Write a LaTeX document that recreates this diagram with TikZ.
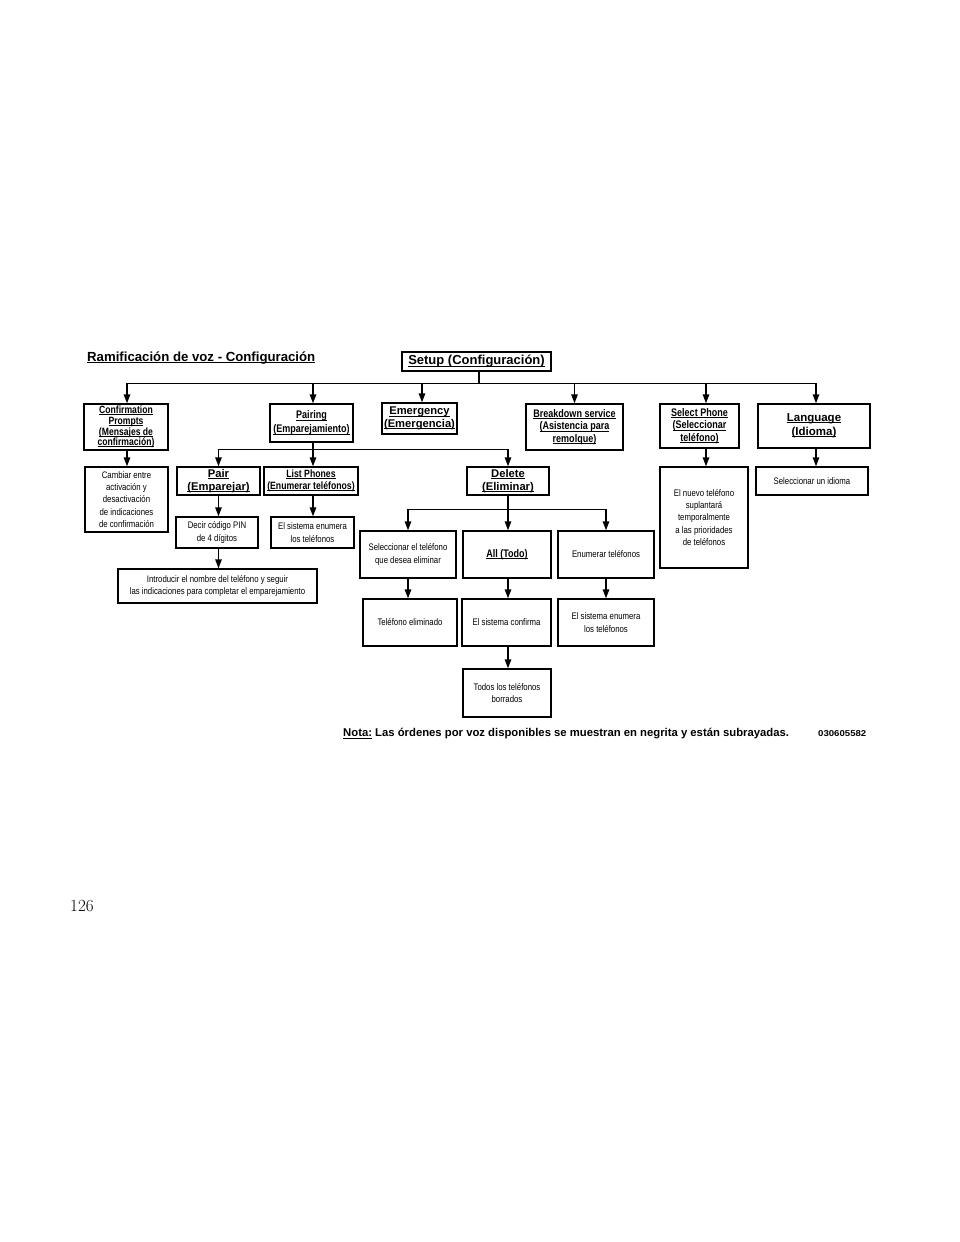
\documentclass[tikz,border=0pt]{standalone}
\usepackage{fontspec}
\setmainfont{Liberation Sans}
\newfontfamily\hv{Liberation Sans}
\newfontfamily\hvn[FakeStretch=0.82]{Liberation Sans}
\newfontfamily\hvw[FakeStretch=1.13]{Liberation Sans}
\newfontfamily\pageserif{Latin Modern Roman}
\usetikzlibrary{arrows.meta}
\newcommand\bx[7][]{\node[box,#1, minimum width={#5-#3}, minimum height={#6-#4}] (#2) at ({(#3+#5)/2},{(#4+#6)/2}) {#7};}
\newcommand\ul[1]{\leavevmode\setbox0\hbox{#1}\rlap{\rule[-1.5pt]{\wd0}{0.8pt}}\box0\relax}
\begin{document}
\begin{tikzpicture}[x=1pt,y=-1pt,
  box/.style={draw=black, line width=1.4pt, fill=white, inner sep=0pt, align=center, text=black},
  cmdA/.style={font={\hv\bfseries\fontsize{11.2}{12.6}\selectfont}},
  cmdN/.style={font={\hvn\bfseries\fontsize{11}{12.5}\selectfont}},
  info/.style={font={\hvn\fontsize{9.5}{12.3}\selectfont}},
  arr/.style={line width=1.4pt, -{Triangle[length=9pt,width=6.5pt]}},
  ln/.style={line width=1.4pt}]
\useasboundingbox[fill=white] (0,0) rectangle (960,1242);

% title
\node[anchor=west, inner sep=0pt, font={\hv\bfseries\fontsize{13.2}{14}\selectfont}] (title) at (87,358) {\ul{Ramificación de voz - Configuración}};

% root
\bx[font={\hv\bfseries\fontsize{13}{14}\selectfont}]{setup}{402}{352}{551}{371}{\ul{Setup (Configuración)}}

% level 1
\bx[font={\hvn\bfseries\fontsize{10.5}{10.7}\selectfont}]{conf}{84}{404}{168}{450}{\ul{Confirmation}\\\ul{Prompts}\\\ul{(Mensajes de}\\\ul{confirmación)}}
\bx[cmdN, font={\hvn\bfseries\fontsize{11}{14}\selectfont}]{pairing}{270}{404}{353}{442}{\ul{Pairing}\\\ul{(Emparejamiento)}}
\bx[cmdA]{emerg}{382}{403}{457}{434}{\ul{Emergency}\\\ul{(Emergencia)}}
\bx[cmdN]{break}{526}{404}{623}{450}{\ul{Breakdown service}\\\ul{(Asistencia para}\\\ul{remolque)}}
\bx[cmdN]{selph}{660}{404}{739}{448}{\ul{Select Phone}\\\ul{(Seleccionar}\\\ul{teléfono)}}
\bx[cmdA, font={\hv\bfseries\fontsize{11.5}{14}\selectfont}]{lang}{758}{404}{870}{448}{\ul{Language}\\\ul{(Idioma)}}

\coordinate (stem) at ([xshift=2.5pt]setup.south);
\foreach \n/\dx in {conf/1,pairing/1.5,emerg/2.5,break/0,selph/6.5,lang/2}
  \draw[arr] (stem) -- ++(0,12) -| ([xshift=\dx pt]\n.north);

% level 2
\bx[info]{cambiar}{85}{467}{168}{532}{Cambiar entre\\activación y\\desactivación\\de indicaciones\\de confirmación}
\draw[arr] ([xshift=1pt]conf.south) -- ([xshift=1pt]conf.south |- cambiar.north);

\bx[cmdA]{pair}{177}{467}{260}{495}{\ul{Pair}\\\ul{(Emparejar)}}
\bx[cmdN, font={\hvn\bfseries\fontsize{10.6}{12}\selectfont}]{listph}{264}{467}{358}{495}{\ul{List Phones}\\\ul{(Enumerar teléfonos)}}
\bx[cmdA]{delete}{467}{467}{549}{495}{\ul{Delete}\\\ul{(Eliminar)}}
\coordinate (pst) at ([xshift=1.5pt]pairing.south);
\draw[arr] (pst) -- ++(0,7) -| (pair.north);
\draw[arr] (pst) -- (listph.north -| pst);
\draw[arr] (pst) -- ++(0,7) -| (delete.north);

\bx[info]{selnew}{660}{467}{748}{568}{El nuevo teléfono\\suplantará\\temporalmente\\a las prioridades\\de teléfonos}
\draw[arr] ([xshift=6.5pt]selph.south) -- ([xshift=6.5pt]selph.south |- selnew.north);
\bx[info]{idioma}{756}{467}{868}{495}{Seleccionar un idioma}
\draw[arr] ([xshift=2pt]lang.south) -- ([xshift=2pt]lang.south |- idioma.north);

% pair branch
\bx[info]{decir}{176}{517}{258}{548}{Decir código PIN\\de 4 dígitos}
\draw[arr] (pair.south) -- (decir.north -| pair.south);
\bx[info]{enum1}{271}{517}{354}{548}{El sistema enumera\\los teléfonos}
\draw[arr] (listph.south -| pst) -- (enum1.north -| pst);
\bx[info]{intro}{118}{569}{317}{603}{Introducir el nombre del teléfono y seguir\\las indicaciones para completar el emparejamiento}
\draw[arr] (decir.south -| pair.south) -- (intro.north -| pair.south);

% delete branch
\bx[info]{selsel}{360}{531}{456}{578}{Seleccionar el teléfono\\que desea eliminar}
\bx[cmdN]{all}{463}{531}{551}{578}{\ul{All (Todo)}}
\bx[info]{enumer}{558}{531}{654}{578}{Enumerar teléfonos}
\draw[arr] (delete.south) -- ++(0,14) -| (selsel.north);
\draw[arr] (delete.south) -- (all.north -| delete.south);
\draw[arr] (delete.south) -- ++(0,14) -| (enumer.north);

\bx[info]{elim}{363}{599}{457}{646}{Teléfono eliminado}
\bx[info]{confirma}{462}{599}{551}{646}{El sistema confirma}
\bx[info]{enum2}{558}{599}{654}{646}{El sistema enumera\\los teléfonos}
\draw[arr] (selsel.south) -- (elim.north -| selsel.south);
\draw[arr] (all.south -| delete.south) -- (confirma.north -| delete.south);
\draw[arr] (enumer.south) -- (enum2.north -| enumer.south);
\bx[info]{todos}{463}{669}{551}{717}{Todos los teléfonos\\borrados}
\draw[arr] (confirma.south -| delete.south) -- (todos.north -| delete.south);

% note
\node[anchor=west, inner sep=0pt, font={\hv\bfseries\fontsize{11.3}{12}\selectfont}] (nota) at (343,734) {\ul{Nota:} Las órdenes por voz disponibles se muestran en negrita y están subrayadas.};
\node[anchor=west, inner sep=0pt, font={\hvw\bfseries\fontsize{8.5}{9}\selectfont}] (code) at (818,734) {030605582};

% page number
\node[anchor=west, inner sep=0pt, font={\pageserif\fontsize{17}{18}\selectfont}] (page) at (70,906) {126};
\end{tikzpicture}
\end{document}
